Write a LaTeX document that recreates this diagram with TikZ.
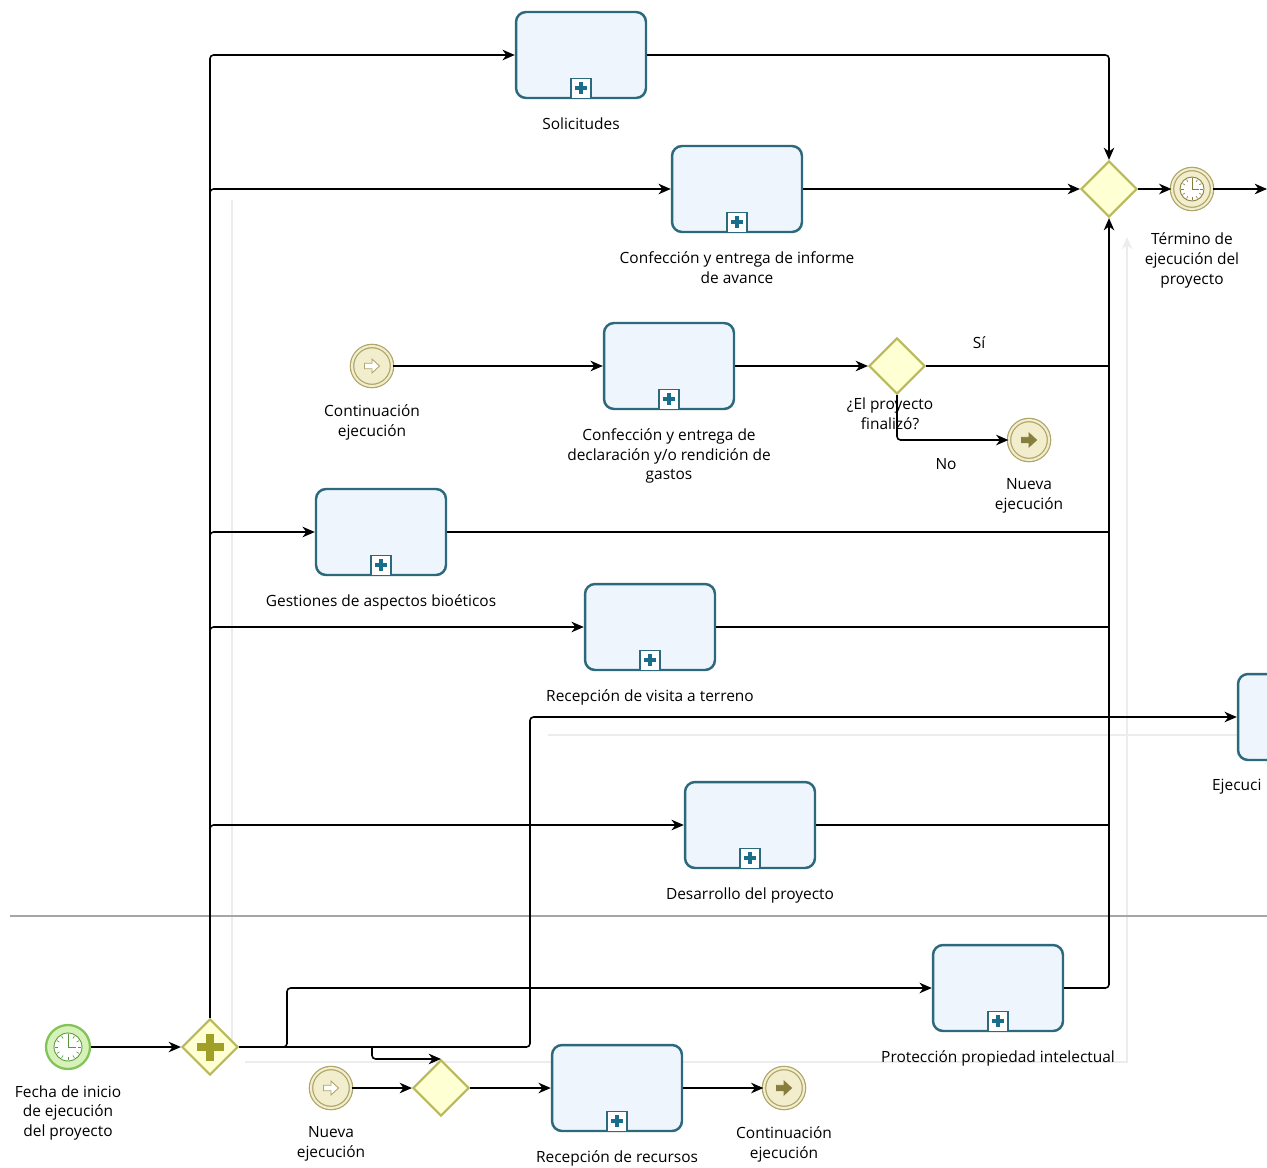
\documentclass[tikz,border=0pt]{standalone}
\usepackage{fontspec}
\setmainfont{Open Sans}
\usetikzlibrary{arrows,arrows.meta,calc,positioning,shapes.geometric}
\definecolor{task_line}{RGB}{45,105,125}
\definecolor{task_fill}{RGB}{238,245,252}
\definecolor{sub_plus}{RGB}{25,110,140}
\definecolor{gw_line}{RGB}{185,185,90}
\definecolor{gw_fill}{RGB}{255,255,212}
\definecolor{gw_plus}{RGB}{160,160,40}
\definecolor{ev_line}{RGB}{175,165,105}
\definecolor{ev_fill}{RGB}{242,238,205}
\definecolor{ev_dark}{RGB}{135,125,60}
\definecolor{start_line}{RGB}{130,195,90}
\definecolor{start_fill}{RGB}{215,242,185}
\definecolor{start_dark}{RGB}{90,150,60}
\tikzset{
  task/.style = {draw=task_line, fill=task_fill, line width=1.4pt, rounded corners=0.2cm,
  minimum width=2.6cm, minimum height=1.72cm, inner sep=0pt},
  subproc/.style = {draw=task_line, fill=white, line width=0.9pt, minimum size=0.4cm,
  inner sep=0pt, anchor=south, path picture={
    \coordinate (pc) at (path picture bounding box.center);
    \fill[sub_plus] ($(pc)+(-0.12cm,-0.04cm)$) rectangle ($(pc)+(0.12cm,0.04cm)$);
    \fill[sub_plus] ($(pc)+(-0.04cm,-0.12cm)$) rectangle ($(pc)+(0.04cm,0.12cm)$);}},
  xor_gw/.style = {diamond, aspect=1, minimum size=1.12cm, inner sep=0pt, draw=gw_line,
  fill=gw_fill, line width=1.2pt},
  par_gw/.style = {xor_gw, path picture={
    \coordinate (pc) at (path picture bounding box.center);
    \fill[gw_plus] ($(pc)+(-0.27cm,-0.08cm)$) rectangle ($(pc)+(0.27cm,0.08cm)$);
    \fill[gw_plus] ($(pc)+(-0.08cm,-0.27cm)$) rectangle ($(pc)+(0.08cm,0.27cm)$);}},
  clock/.style 2 args = {path picture={
    \coordinate (pc) at (path picture bounding box.center);
    \draw[#2, fill=white, line width=0.5pt] (pc) circle (#1);
    \foreach \a in {0,30,...,330}
      \draw[#2, line width=0.35pt] ($(pc)+(\a:{0.7*#1})$) -- ($(pc)+(\a:{0.9*#1})$);
    \draw[#2, line width=0.5pt] ($(pc)+(0cm,{0.7*#1})$) -- (pc) -- ($(pc)+({0.6*#1},0cm)$);}},
  link/.style 2 args = {path picture={
    \coordinate (pc) at (path picture bounding box.center);
    \draw[line width=0.5pt, draw=#1, fill=#2, shift={(pc)}] (-0.15cm,0.055cm) -- (0cm,0.055cm)
      -- (0cm,0.14cm) -- (0.15cm,0cm) -- (0cm,-0.14cm) -- (0cm,-0.055cm) -- (-0.15cm,-0.055cm) -- cycle;}},
  event/.style = {circle, minimum size=0.8cm, inner sep=0pt, draw=ev_line, double=ev_fill,
  double distance=1.2pt, line width=0.7pt, fill=ev_fill},
  start_ev/.style = {circle, minimum size=0.88cm, inner sep=0pt, draw=start_line,
  fill=start_fill, line width=1.3pt, clock={0.28cm}{start_dark}},
  catch_ev/.style = {event, link={ev_line}{white}},
  throw_ev/.style = {event, link={ev_dark}{ev_dark}},
  timer_ev/.style = {event, clock={0.24cm}{ev_dark}}
}

\begin{document}
\begin{tikzpicture}[x=0.02cm, y=-0.02cm, >={Stealth[length=7pt, width=6pt, inset=2.2pt]},
    flow/.style={->, line width=0.9pt, rounded corners=2pt},
    line/.style={line width=0.9pt},
    ghost/.style={gray!15, line width=0.8pt},
    lbl/.style={align=center, inner sep=1pt, font=\fontsize{8.8}{11.3}\selectfont},
    node distance=0.32cm]
  \clip (0,0) rectangle (1267,1167);
  \fill[white] (0,0) rectangle (1267,1167);

  % faint lines of the editor
  \coordinate (g1) at (232,200);
  \coordinate (g2) at (232,1040);
  \coordinate (g3) at (245,1062);
  \coordinate (g4) at (1127,1062);
  \coordinate (g5) at (1127,237);
  \coordinate (g6) at (548,735);
  \coordinate (g7) at (1238,735);
  \draw[ghost] (g1) -- (g2);
  \draw[ghost, ->] (g3) -- (g4) -- (g5);
  \draw[ghost] (g6) -- (g7);

  % lane
  \draw[gray!70, line width=0.8pt] (10,916) -- (1267,916);

  % start and lower lane
  \node[start_ev] (fecha) at (68,1047) {};
  \node[lbl, below=0.26cm of fecha] (fecha_l) {Fecha de inicio\\de ejecución\\del proyecto};
  \node[par_gw] (par) at (210,1047) {};
  \node[catch_ev] (nueva_in) at (331,1088) {};
  \node[lbl, below=of nueva_in] (nueva_in_l) {Nueva\\ejecución};
  \node[xor_gw] (xor_rec) at (441,1088) {};
  \node[task] (rec) at (617,1088) {};
  \node[lbl, below=of rec] (rec_l) {Recepción de recursos};
  \node[throw_ev] (cont_out) at (784,1088) {};
  \node[lbl, below=of cont_out] (cont_out_l) {Continuación\\ejecución};
  \node[task] (pro) at (998,988) {};
  \node[lbl, below=of pro] (pro_l) {Protección propiedad intelectual};

  % upper lane
  \node[task] (sol) at (581,55) {};
  \node[lbl, below=of sol] (sol_l) {Solicitudes};
  \node[task] (inf) at (737,189) {};
  \node[lbl, below=of inf] (inf_l) {Confección y entrega de informe\\de avance};
  \node[catch_ev] (cont_in) at (372,366) {};
  \node[lbl, below=of cont_in] (cont_in_l) {Continuación\\ejecución};
  \node[task] (dec) at (669,366) {};
  \node[lbl, below=of dec] (dec_l) {Confección y entrega de\\declaración y/o rendición de\\gastos};
  \node[xor_gw] (fin) at (897,366) {};
  \node[lbl, below=0.02cm of fin, xshift=-0.14cm] (fin_l) {¿El proyecto\\finalizó?};
  \node[throw_ev] (nueva_out) at (1029,440) {};
  \node[lbl, below=of nueva_out] (nueva_out_l) {Nueva\\ejecución};
  \node[lbl] (si) at (979,343) {Sí};
  \node[lbl] (no) at (946,464) {No};
  \node[task] (bio) at (381,532) {};
  \node[lbl, below=of bio] (bio_l) {Gestiones de aspectos bioéticos};
  \node[task] (vis) at (650,627) {};
  \node[lbl, below=of vis] (vis_l) {Recepción de visita a terreno};
  \node[task] (eje) at (1303,717) {};
  \node[lbl, anchor=west] (eje_l) at (1210,787) {Ejecuci};
  \node[task] (des) at (750,825) {};
  \node[lbl, below=of des] (des_l) {Desarrollo del proyecto};
  \node[xor_gw] (merge) at (1109,189) {};
  \node[timer_ev] (termino) at (1192,189) {};
  \node[lbl, below=0.42cm of termino] (termino_l) {Término de\\ejecución del\\proyecto};
  \coordinate (salida) at (1267,189);

  \foreach \t in {sol,inf,dec,bio,vis,eje,des,pro,rec}
    \node[subproc] at (\t.south) {};

  % flows
  \draw[flow] (fecha) -- (par);
  \draw[flow] (par.north) |- (sol.west);
  \foreach \t in {inf,bio,vis,des}
    \draw[flow] (par.north) |- (\t.west);
  \coordinate (k_pro) at (287,1047);
  \coordinate (k_rec) at (372,1047);
  \coordinate (k_eje) at (530,1047);
  \draw[flow] (par.east) -- (k_pro) |- (pro.west);
  \draw[flow] (par.east) -- (k_eje) |- (eje.west);
  \draw[flow] (k_rec) |- (xor_rec.north);
  \draw[flow] (nueva_in) -- (xor_rec);
  \draw[flow] (xor_rec) -- (rec);
  \draw[flow] (rec) -- (cont_out);
  \draw[flow] (cont_in) -- (dec);
  \draw[flow] (dec) -- (fin);
  \draw[line] (fin.east) -- (fin.east -| merge.south);
  \draw[flow] (fin.south) |- (nueva_out);
  \foreach \t in {bio,vis,des}
    \draw[line] (\t.east) -- (\t.east -| merge.south);
  \draw[flow] (pro.east) -| (merge.south);
  \draw[flow] (sol.east) -| (merge.north);
  \draw[flow] (inf) -- (merge);
  \draw[flow] (merge) -- (termino);
  \draw[flow] (termino) -- (salida);
\end{tikzpicture}
\end{document}
